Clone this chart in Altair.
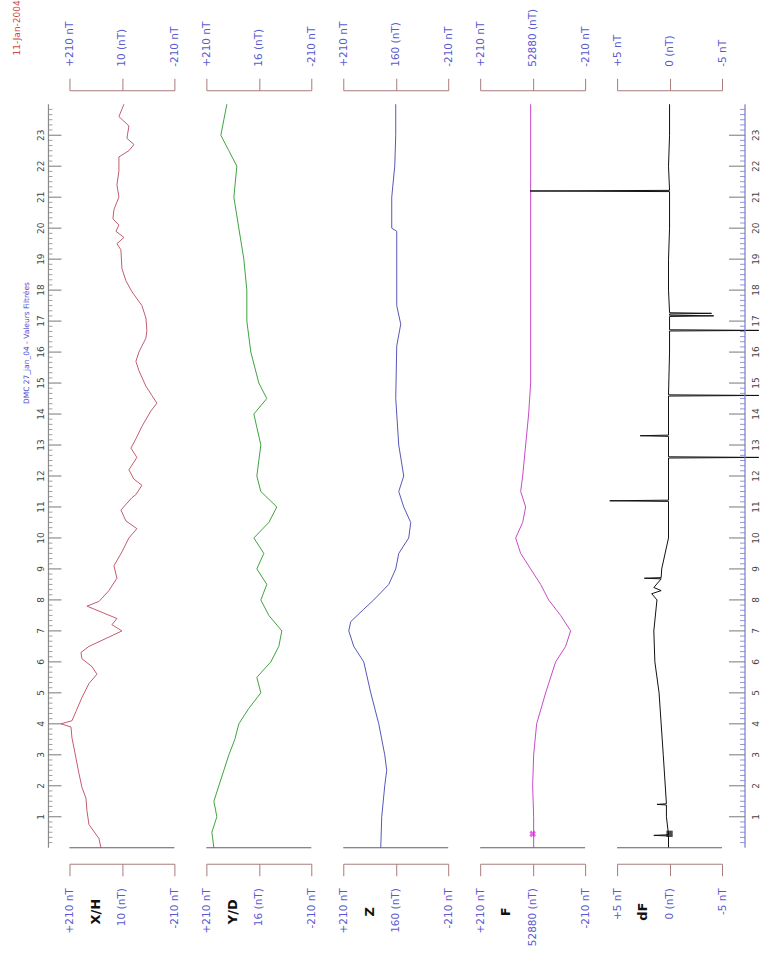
import altair as alt
import pandas as pd

# ---- daily magnetogram, offsets (nT) from each panel's baseline, hour of day ----
XH_H = [0, 0.3, 0.75, 1.2, 1.6, 1.95, 2.4, 2.9, 3.55, 3.9, 4.0, 4.1, 4.4, 4.85, 5.3, 5.6,
        5.85, 6.1, 6.3, 6.5, 6.8, 7.0, 7.2, 7.4, 7.6, 7.8, 7.95, 8.3, 8.7, 9.1, 9.55, 10.0,
        10.3, 10.55, 10.9, 11.3, 11.4, 11.7, 11.9, 12.2, 12.6, 12.9, 13.2, 13.6, 14.1, 14.35,
        14.6, 14.9, 15.4, 15.7, 16.0, 16.45, 16.7, 17.1, 17.5, 17.95, 18.3, 18.7, 19.3, 19.5,
        19.7, 19.9, 20.1, 20.3, 20.6, 21.0, 21.4, 21.85, 22.3, 22.5, 22.7, 22.9, 23.3, 23.6, 24.0]
XH_V = [84, 92, 132, 140, 144, 160, 172, 184, 200, 204, 244, 200, 184, 160, 132, 100,
        120, 160, 164, 132, 52, 0, 40, 20, 80, 140, 92, 52, 20, 32, 0, -28,
        -60, -16, 4, -40, -56, -80, -48, -28, -60, -36, -56, -80, -116, -140,
        -120, -96, -68, -56, -68, -96, -100, -96, -80, -40, -16, 0, 4, 20,
        -8, 24, 12, 36, 32, 12, 20, 12, 12, -28, -48, -20, -28, 12, -8]

YD_H = [0, 0.5, 1.0, 1.5, 2.0, 2.5, 3.0, 3.5, 4.0, 4.5, 5.0, 5.5, 6.0, 6.5, 7.0, 7.5, 8.0,
        8.5, 9.0, 9.5, 10.0, 10.5, 11.0, 11.5, 12.0, 13.0, 14.0, 14.5, 15.0, 16.0, 17.0,
        18.0, 19.0, 20.0, 21.0, 22.0, 22.5, 23.0, 23.5, 24.0]
YD_V = [180, 188, 168, 180, 160, 140, 120, 96, 80, 40, -8, 8, -48, -80, -92, -40, -8,
        -32, 8, -20, 20, -40, -72, -8, 8, -8, 20, -32, 0, 32, 48,
        48, 60, 80, 100, 88, 120, 152, 140, 128]

Z_H = [0, 1, 2, 2.5, 3, 4, 5, 6, 6.5, 7.0, 7.3, 7.7, 8.0, 8.5, 9.0, 9.5, 10.0, 10.5,
       11.0, 11.5, 12, 13, 14, 14.5, 16.2, 16.9, 17.5, 19.9, 20.0, 21.0, 22, 23, 24]
Z_V = [60, 56, 44, 36, 44, 68, 100, 128, 168, 188, 180, 128, 88, 28, 0, -12, -52, -60,
       -32, -12, -32, -12, -4, 0, -4, -20, -4, -4, 16, 16, 4, 0, 0]

F_H = [0, 1, 2, 3, 4, 5, 6, 6.5, 7, 7.5, 8, 8.5, 9, 9.5, 10, 10.5, 11, 11.5, 12, 13,
       14, 15, 16, 18, 20, 22, 24]
F_V = [-4, -4, 0, -4, -16, -52, -92, -132, -152, -112, -64, -32, 8, 48, 68, 40, 28, 48,
       40, 28, 16, 8, 8, 8, 8, 8, 8]

DF_H = [0, 0.38, 0.4, 0.42, 1.0, 1.38, 1.4, 1.42, 3.0, 5.0, 6.0, 7.0, 8.0, 8.2, 8.3, 8.4,
        8.68, 8.7, 8.72, 9.0, 10.0, 11.18, 11.2, 11.22, 12.0, 12.58, 12.6, 12.62, 13.28,
        13.3, 13.32, 14.58, 14.6, 14.62, 16.0, 16.68, 16.7, 16.72, 17.15, 17.17, 17.19,
        17.23, 17.25, 17.27, 18.0, 19.0, 20.0, 21.18, 21.2, 21.22, 22.0, 23.0, 24.0]
DF_V = [0.1, 0.1, 1.5, 0.1, 0.3, 0.3, 1.2, 0.3, 0.6, 1.0, 1.4, 1.5, 1.2, 1.7, 0.8, 1.5,
        0.8, 2.4, 0.8, 0.75, 0.1, 0.1, 5.7, 0.1, 0.1, 0.1, -8.5, 0.1, 0.1,
        2.8, 0.1, 0.1, -8.5, 0.1, 0.0, 0.0, -8.5, 0.0, 0.0, -4.2, 0.0,
        0.0, -4.0, 0.0, 0.1, 0.1, 0.0, 0.0, 13.3, 0.0, 0.1, 0.0, 0.0]

# absolute-measurement markers
MARK_H = [0.45]

PANELS = [
    # name, centre label, hours, values, colour, half range
    ("X/H", "10 (nT)", XH_H, XH_V, "#c45a6e", 210),
    ("Y/D", "16 (nT)", YD_H, YD_V, "#3fa33f", 210),
    ("Z", "160 (nT)", Z_H, Z_V, "#5656b8", 210),
    ("F", "52880 (nT)", F_H, F_V, "#c848c8", 210),
    ("dF", "0 (nT)", DF_H, DF_V, "#111111", 5),
]

HOUR_TICKS = list(range(1, 24))
HOUR_LABELS = [str(i) for i in HOUR_TICKS]
MINOR_TICKS = [i / 6 for i in range(0, 145) if i % 6]

TITLE = "DMC 27_jan_04 - Valeurs Filtrées"
DATE = "11-Jan-2004"

PANEL_W = 105
PANEL_H = 744
LABEL_BLUE = "#5a5ad0"
BRACKET = "#a87a7a"
FONT = "DejaVu Sans"

y_scale = alt.Scale(domain=[0, 24], nice=False, zero=False)
Y = dict(scale=y_scale, axis=None)


def axis(orient, lim, mid, offset):
    expr = (f"datum.value > 0 ? '+{lim} nT' : "
            f"(datum.value < 0 ? '-{lim} nT' : '{mid}')")
    return alt.Axis(orient=orient, values=[-lim, 0, lim], labelExpr=expr,
                    offset=offset, tickSize=12, tickColor=BRACKET,
                    domainColor=BRACKET, labelAngle=270, labelColor=LABEL_BLUE,
                    labelFont=FONT, labelFontSize=10.5, labelPadding=12,
                    grid=False, title=None, labelOverlap=False,
                    labelBound=False, labelFlush=False)


def hour_axis(x_line, x_tick, x_minor, x_label, line_color):
    """Vertical hour scale drawn at fixed offsets from a panel edge."""
    hours = pd.DataFrame({"h": HOUR_TICKS, "t": HOUR_LABELS})
    minor = pd.DataFrame({"h": MINOR_TICKS})
    span = pd.DataFrame({"h": [0], "h2": [24]})
    return [
        alt.Chart(span).mark_rule(color=line_color, strokeWidth=1.2).encode(
            x=alt.value(x_line), y=alt.Y("h:Q", **Y), y2="h2:Q"),
        alt.Chart(hours).mark_rule(color="#777777", strokeWidth=1).encode(
            x=alt.value(x_line), x2=alt.value(x_tick), y=alt.Y("h:Q", **Y)),
        alt.Chart(minor).mark_rule(color=line_color, strokeWidth=0.8).encode(
            x=alt.value(x_line), x2=alt.value(x_minor), y=alt.Y("h:Q", **Y)),
        alt.Chart(hours).mark_text(angle=270, font=FONT, fontSize=9, color="#444444",
                                   align="center", baseline="middle").encode(
            x=alt.value(x_label), y=alt.Y("h:Q", **Y), text="t:N"),
    ]


def panel(name, mid, hrs, vals, color, lim):
    xs = alt.Scale(domain=[-lim, lim], reverse=True, nice=False, zero=False)
    df = pd.DataFrame({"h": hrs, "v": vals})
    line = alt.Chart(df).mark_line(color=color, strokeWidth=1).encode(
        x=alt.X("v:Q", scale=xs, axis=axis("top", lim, mid, 14)),
        y=alt.Y("h:Q", **Y),
        order=alt.Order("h:Q"),
    )
    start = alt.Chart(pd.DataFrame({"v": [-lim], "v2": [lim], "h": [0]})).mark_rule(
        color="#5c5c78", strokeWidth=1.2).encode(
        x=alt.X("v:Q", scale=xs, axis=axis("bottom", lim, mid, 16)),
        x2="v2:Q",
        y=alt.Y("h:Q", **Y),
    )
    label = alt.Chart(pd.DataFrame({"v": [lim / 2], "t": [name]})).mark_text(
        angle=270, font=FONT, fontSize=13, fontWeight="bold", color="#111111",
        align="center", baseline="middle").encode(
        x=alt.X("v:Q", scale=xs, axis=None), y=alt.value(PANEL_H + 64), text="t:N")
    layers = [line, start, label]

    if name == "F":
        layers.append(alt.Chart(pd.DataFrame({"h": MARK_H, "v": [0]})).mark_point(
            shape="cross", filled=True, color="#e020e0", size=45, angle=45).encode(
            x=alt.X("v:Q", scale=xs, axis=None), y=alt.Y("h:Q", **Y)))
    if name == "dF":
        layers.append(alt.Chart(pd.DataFrame({"h": MARK_H, "v": [0]})).mark_point(
            shape="square", filled=True, color="#000000", size=40).encode(
            x=alt.X("v:Q", scale=xs, axis=None), y=alt.Y("h:Q", **Y)))
        # hour scale along the right-hand side, ticks pointing back into the plot
        layers += hour_axis(PANEL_W + 23, PANEL_W + 7, PANEL_W + 18, PANEL_W + 34, "#7a7ad0")
    if name == "X/H":
        # hour scale along the left-hand side, ticks pointing into the plot
        layers += hour_axis(-21, -8, -17, -28, "#8a8a8a")
        layers.append(alt.Chart(pd.DataFrame({"t": [TITLE]})).mark_text(
            angle=270, font=FONT, fontSize=7.5, color="#4a4ad0", align="center",
            baseline="middle").encode(x=alt.value(-42), y=alt.value(239), text="t:N"))
        layers.append(alt.Chart(pd.DataFrame({"t": [DATE]})).mark_text(
            angle=270, font=FONT, fontSize=9, color="#d04848", align="right",
            baseline="middle").encode(x=alt.value(-52), y=alt.value(-104), text="t:N"))

    return alt.layer(*layers).resolve_axis(x="independent").properties(
        width=PANEL_W, height=PANEL_H)


charts = [panel(*p) for p in PANELS]
chart = alt.hconcat(*charts, spacing=32, bounds="flush").properties(
    padding={"left": 13.5, "top": 0, "right": 0, "bottom": 0},
    background="white",
).configure_view(strokeWidth=0)

chart.save("out.html", embed_options={"renderer": "svg", "actions": False})
